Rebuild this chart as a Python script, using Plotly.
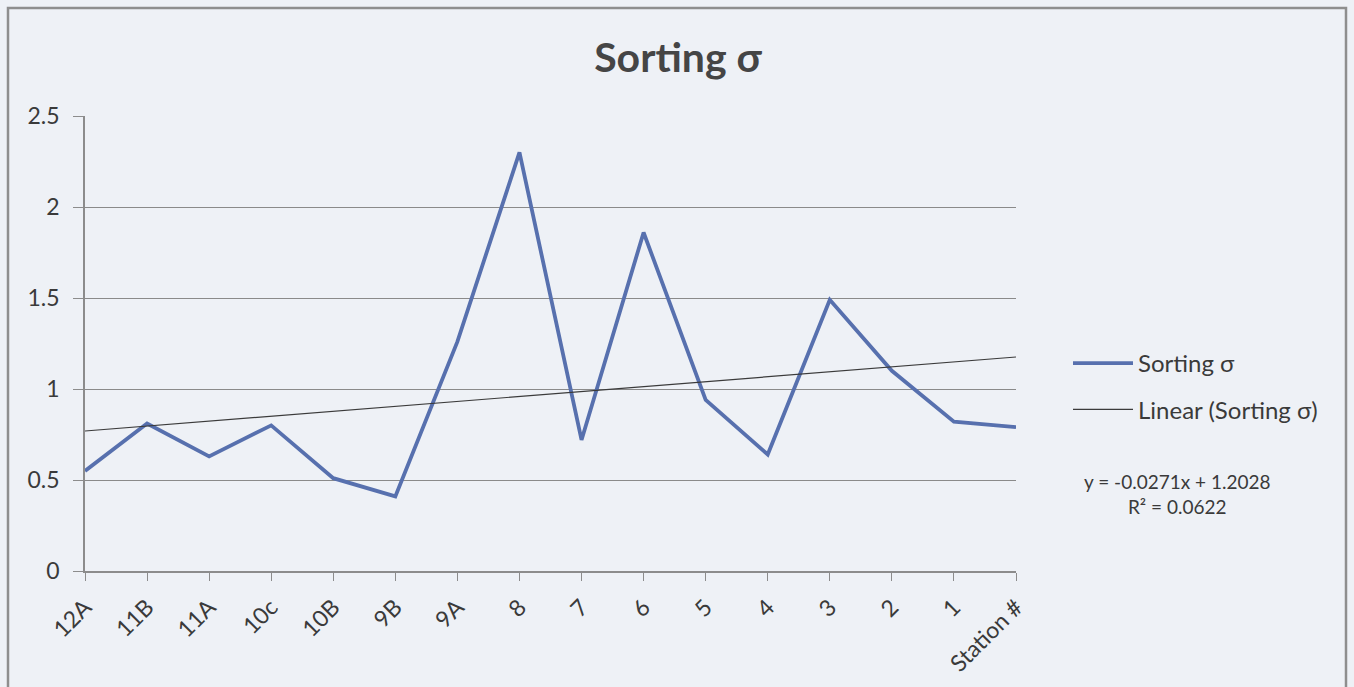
import plotly.graph_objects as go

# Station order as stored in the sheet (axis is displayed reversed)
stations = ["Station #", "1", "2", "3", "4", "5", "6", "7", "8",
            "9A", "9B", "10B", "10c", "11A", "11B", "12A"]
sorting = [0.79, 0.82, 1.10, 1.49, 0.64, 0.94, 1.86, 0.72, 2.30,
           1.26, 0.41, 0.51, 0.80, 0.63, 0.81, 0.55]

# Linear trendline coefficients (x = 1..n in sheet order)
trend_slope = -0.0271
trend_intercept = 1.2028
trend_r2 = 0.0622

y_ticks = [0, 0.5, 1, 1.5, 2, 2.5]

trend = [trend_intercept + trend_slope * (i + 1) for i in range(len(stations))]

FONT = "Lato, 'Open Sans', sans-serif"
TEXT = "#3a3a3a"
BLUE = "#5770ae"

fig = go.Figure()
fig.add_trace(go.Scatter(
    x=stations, y=sorting, mode="lines", name="Sorting σ",
    line=dict(color=BLUE, width=3.8), legendgroup="a",
))
fig.add_trace(go.Scatter(
    x=stations, y=trend, mode="lines", name="Linear (Sorting σ)",
    line=dict(color="#3b3b3b", width=1.2), legendgroup="b",
))

W, H = 1354, 687
fig.update_layout(
    width=W, height=H,
    margin=dict(l=0, r=0, t=0, b=0, autoexpand=False),
    paper_bgcolor="#eef1f6",
    plot_bgcolor="rgba(0,0,0,0)",
    font=dict(family=FONT, color=TEXT),
    title=dict(text="<b>Sorting σ</b>", x=678 / W, xanchor="center",
               y=1 - 58 / H, yanchor="middle",
               font=dict(size=41, color="#454545", family=FONT)),
    showlegend=True,
    legend=dict(x=1068 / W, y=1 - 341 / H, xanchor="left", yanchor="top",
                bgcolor="rgba(0,0,0,0)", font=dict(size=24, color=TEXT),
                traceorder="grouped", tracegroupgap=12, itemwidth=60),
    xaxis=dict(
        domain=[85 / W, 1016 / W], type="category",
        range=[len(stations) - 1, 0],
        showgrid=False, showline=True, linecolor="#8c8c8c", linewidth=1.5,
        ticks="outside", ticklen=8, tickcolor="#8c8c8c",
        ticklabelstandoff=4,
        tickangle=-45, tickfont=dict(size=23, color=TEXT),
    ),
    yaxis=dict(
        domain=[1 - 571 / H, 1 - 116 / H], range=[0, 2.5],
        tickvals=y_ticks, ticktext=["0", "0.5", "1", "1.5", "2", "2.5"],
        showgrid=True, gridcolor="#8a8a8a", gridwidth=1.2,
        showline=True, linecolor="#8c8c8c", linewidth=1.5,
        ticks="outside", ticklen=10, tickcolor="#8c8c8c",
        ticklabelstandoff=9,
        tickfont=dict(size=23, color=TEXT), zeroline=False,
    ),
    shapes=[dict(type="rect", xref="paper", yref="paper",
                 x0=8 / W, x1=1346 / W, y0=-0.2, y1=1 - 8 / H,
                 line=dict(color="#8e8e8e", width=2.5),
                 fillcolor="rgba(0,0,0,0)", layer="below")],
    annotations=[dict(
        xref="paper", yref="paper", x=1177 / W, y=1 - 494 / H,
        xanchor="center", yanchor="middle", showarrow=False, align="center",
        text=f"y = {trend_slope:.4f}x + {trend_intercept:.4f}<br>R² = {trend_r2:.4f}",
        font=dict(size=19, color=TEXT, family=FONT),
    )],
)

fig.write_html("out.html")
